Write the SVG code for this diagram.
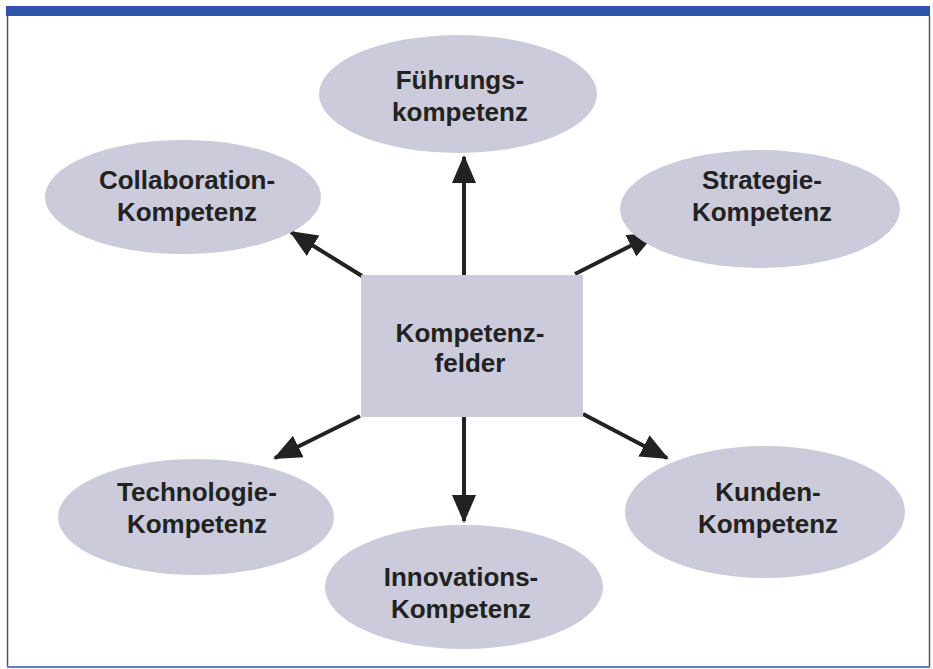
<svg xmlns="http://www.w3.org/2000/svg" width="933" height="669" viewBox="0 0 933 669">
<style>
.node{fill:#cbcbdb;}
.lbl{font-family:"Liberation Sans",Arial,sans-serif;font-weight:bold;font-size:26px;fill:#222;text-anchor:middle;}
.conn{stroke:#222;stroke-width:4;fill:none;marker-end:url(#ah);}
</style>
<defs>
<marker id="ah" markerUnits="userSpaceOnUse" markerWidth="28" markerHeight="28" viewBox="0 0 28 28" refX="26" refY="14" orient="auto">
<path d="M0,2 L28,14 L0,26 Z" fill="#222"/>
</marker>
</defs>
<rect x="0" y="0" width="933" height="669" fill="#fff"/>
<rect x="6" y="6" width="924" height="10" fill="#2a55a8"/>
<line x1="7.5" y1="16" x2="7.5" y2="667" stroke="#555" stroke-width="1.5"/>
<line x1="929.5" y1="16" x2="929.5" y2="667" stroke="#555" stroke-width="1.5"/>
<line x1="7" y1="667" x2="930" y2="667" stroke="#5b83c4" stroke-width="2"/>
<g id="connectors">
<line class="conn" x1="464" y1="275" x2="464" y2="157"/>
<line class="conn" x1="362" y1="276" x2="291" y2="232"/>
<line class="conn" x1="575" y1="274" x2="654" y2="234"/>
<line class="conn" x1="360" y1="416" x2="275" y2="458"/>
<line class="conn" x1="464" y1="417" x2="464" y2="521"/>
<line class="conn" x1="583" y1="414" x2="667" y2="458"/>
</g>
<g id="center">
<rect class="node" x="361" y="275" width="222" height="142"/>
<text class="lbl" x="470" y="342">Kompetenz-</text>
<text class="lbl" x="470" y="372">felder</text>
</g>
<g id="fuehrung">
<ellipse class="node" cx="458" cy="94" rx="139" ry="59"/>
<text class="lbl" x="460" y="89">Führungs-</text>
<text class="lbl" x="460" y="121">kompetenz</text>
</g>
<g id="collaboration">
<ellipse class="node" cx="183" cy="197" rx="138" ry="57"/>
<text class="lbl" x="187" y="189">Collaboration-</text>
<text class="lbl" x="187" y="221">Kompetenz</text>
</g>
<g id="strategie">
<ellipse class="node" cx="760" cy="209" rx="140" ry="59"/>
<text class="lbl" x="762" y="189">Strategie-</text>
<text class="lbl" x="762" y="221">Kompetenz</text>
</g>
<g id="technologie">
<ellipse class="node" cx="196" cy="517" rx="138" ry="58"/>
<text class="lbl" x="197" y="501">Technologie-</text>
<text class="lbl" x="197" y="533">Kompetenz</text>
</g>
<g id="innovation">
<ellipse class="node" cx="464" cy="587" rx="139" ry="62"/>
<text class="lbl" x="461" y="586">Innovations-</text>
<text class="lbl" x="461" y="618">Kompetenz</text>
</g>
<g id="kunden">
<ellipse class="node" cx="765" cy="512" rx="140" ry="66"/>
<text class="lbl" x="768" y="501">Kunden-</text>
<text class="lbl" x="768" y="533">Kompetenz</text>
</g>
</svg>
